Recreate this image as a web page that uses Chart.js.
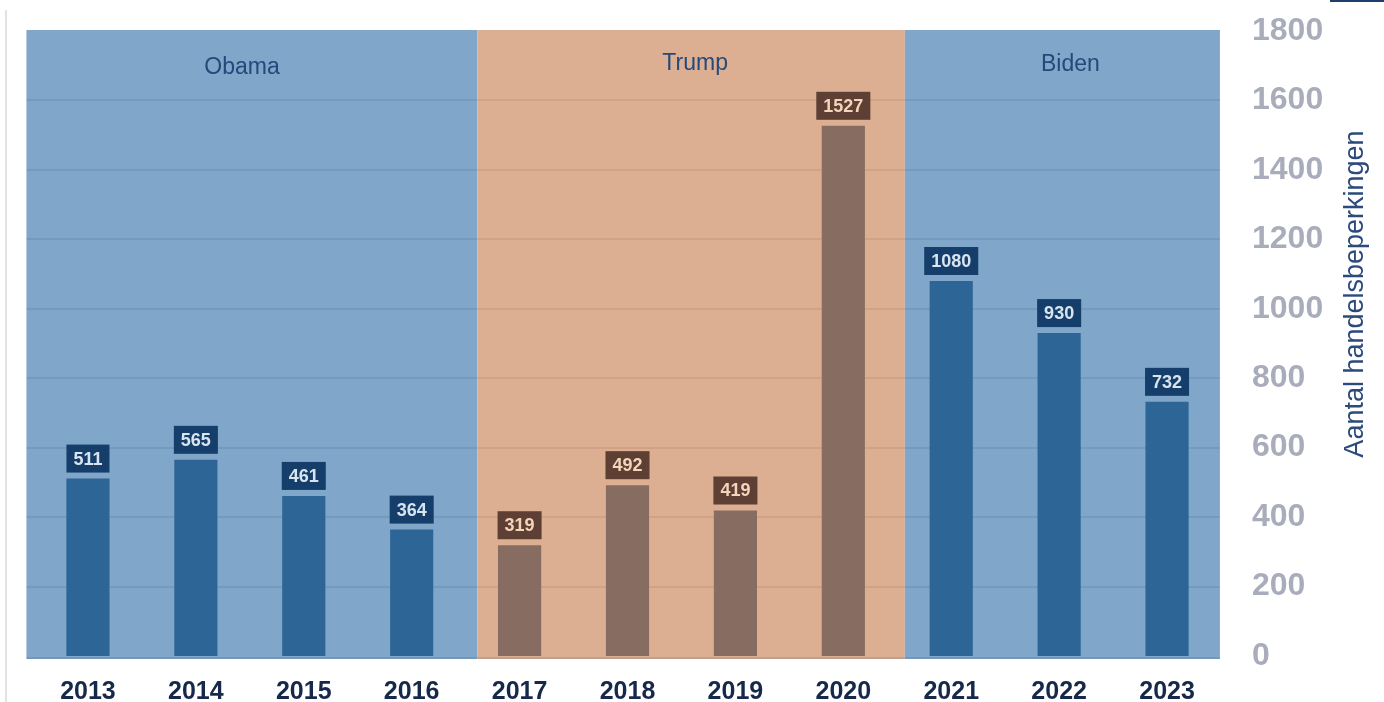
<!DOCTYPE html>
<html>
<head>
<meta charset="utf-8">
<script src="https://cdn.jsdelivr.net/npm/chart.js@4"></script>
<style>
  html, body { margin: 0; padding: 0; background: #fff; }
  #wrap { width: 1384px; height: 702px; position: relative; }
</style>
</head>
<body>
<div id="wrap"><canvas id="tradeChart" width="1384" height="702"></canvas></div>
<script>
// Gegevens
const years = ['2013', '2014', '2015', '2016', '2017', '2018', '2019', '2020', '2021', '2022', '2023'];
const restrictions = [511, 565, 461, 364, 319, 492, 419, 1527, 1080, 930, 732];
const president = ['Obama', 'Obama', 'Obama', 'Obama', 'Trump', 'Trump', 'Trump', 'Trump', 'Biden', 'Biden', 'Biden'];
const yTicks = [0, 200, 400, 600, 800, 1000, 1200, 1400, 1600, 1800];

// Periodes (banden achter de staven), in categorie-index
const terms = [
    { name: 'Obama', from: -0.57, to: 3.61, fill: '#80a7c9', grid: 'rgba(40,70,110,0.13)' },
    { name: 'Trump', from: 3.61, to: 7.57, fill: '#dcaf93', grid: 'rgba(150,80,50,0.13)' },
    { name: 'Biden', from: 7.57, to: 10.49, fill: '#80a7c9', grid: 'rgba(40,70,110,0.13)' }
];

const barColor = { Obama: '#2e6597', Trump: '#876c61', Biden: '#2e6597' };
const boxColor = { Obama: '#163e6b', Trump: '#5e3f33', Biden: '#163e6b' };
const boxText = { Obama: '#d8e4f0', Trump: '#f3d5bb', Biden: '#d8e4f0' };

const bandsPlugin = {
    id: 'bands',
    beforeDraw(chart) {
        const { ctx, chartArea, scales } = chart;
        const x = scales.x, y = scales.y;
        ctx.save();
        terms.forEach(t => {
            const x0 = x.getPixelForValue(t.from);
            const x1 = x.getPixelForValue(t.to);
            ctx.fillStyle = t.fill;
            ctx.fillRect(x0, chartArea.top - 1, x1 - x0, chartArea.bottom - chartArea.top + 4);
            // rasterlijnen
            ctx.fillStyle = t.grid;
            yTicks.slice(1, -1).forEach(v => {
                ctx.fillRect(x0, Math.round(y.getPixelForValue(v)) - 1, x1 - x0, 2);
            });
            ctx.fillStyle = 'rgba(40,70,110,0.15)';
            ctx.fillRect(x0, chartArea.bottom + 1, x1 - x0, 2);
        });
        // dunne lijnen als in het origineel
        ctx.fillStyle = '#e2e2e2';
        ctx.fillRect(5, 10, 2, 692);
        ctx.fillStyle = '#1d3f6e';
        ctx.fillRect(1330, 0, 54, 2);
        ctx.restore();
    },
    afterDatasetsDraw(chart) {
        const { ctx, chartArea, scales } = chart;
        const x = scales.x;
        const meta = chart.getDatasetMeta(0);
        ctx.save();
        // namen van de presidenten
        ctx.font = '23px "Liberation Sans", Arial, sans-serif';
        ctx.fillStyle = '#24497a';
        ctx.textAlign = 'center';
        ctx.textBaseline = 'middle';
        terms.forEach((t, i) => {
            const cx = (x.getPixelForValue(t.from) + x.getPixelForValue(t.to)) / 2;
            ctx.fillText(t.name, cx + [-10, 4, 8][i], chartArea.top + [37, 33, 34][i]);
        });
        // waardelabels in kaders
        ctx.font = 'bold 18px "Liberation Sans", Arial, sans-serif';
        meta.data.forEach((bar, i) => {
            const p = president[i];
            const txt = String(restrictions[i]);
            const w = ctx.measureText(txt).width + 14;
            const h = 28;
            const bottom = bar.y - 6;
            ctx.fillStyle = boxColor[p];
            ctx.fillRect(bar.x - w / 2, bottom - h, w, h);
            ctx.fillStyle = boxText[p];
            ctx.fillText(txt, bar.x, bottom - h / 2 + 1);
        });
        // astitel
        ctx.translate(1356, 294);
        ctx.rotate(-Math.PI / 2);
        ctx.font = '27px "Liberation Sans", Arial, sans-serif';
        ctx.fillStyle = '#2c4b7a';
        ctx.fillText('Aantal handelsbeperkingen', 0, 0);
        ctx.restore();
    }
};

const ctx = document.getElementById('tradeChart').getContext('2d');
const tradeChart = new Chart(ctx, {
    type: 'bar',
    data: {
        labels: years,
        datasets: [{
            label: 'Handelsbeperkingen',
            data: restrictions,
            backgroundColor: president.map(p => barColor[p]),
            borderWidth: 0,
            categoryPercentage: 1,
            barPercentage: 0.4
        }]
    },
    options: {
        responsive: false,
        animation: false,
        layout: { padding: { left: 34, top: 31, right: 0, bottom: 0 } },
        plugins: {
            legend: { display: false },
            tooltip: { enabled: false }
        },
        scales: {
            x: {
                grid: { display: false, drawTicks: false },
                border: { display: false },
                ticks: {
                    color: '#17294a',
                    font: { family: '"Liberation Sans", Arial, sans-serif', size: 25, weight: 'bold' },
                    padding: 21,
                    maxRotation: 0
                },
                afterFit(scale) { scale.height = 46; scale.paddingLeft = 0; scale.paddingRight = 0; }
            },
            y: {
                position: 'right',
                min: 0,
                max: 1800,
                afterBuildTicks(scale) { scale.ticks = yTicks.map(v => ({ value: v })); },
                grid: { display: false, drawTicks: false },
                border: { display: false },
                ticks: {
                    color: '#a9adbb',
                    font: { family: '"Liberation Sans", Arial, sans-serif', size: 32, weight: 'bold' },
                    padding: 31,
                    callback: v => String(v)
                },
                afterFit(scale) { scale.width = 163; scale.paddingTop = 0; scale.paddingBottom = 0; }
            }
        }
    },
    plugins: [bandsPlugin]
});
</script>
</body>
</html>
